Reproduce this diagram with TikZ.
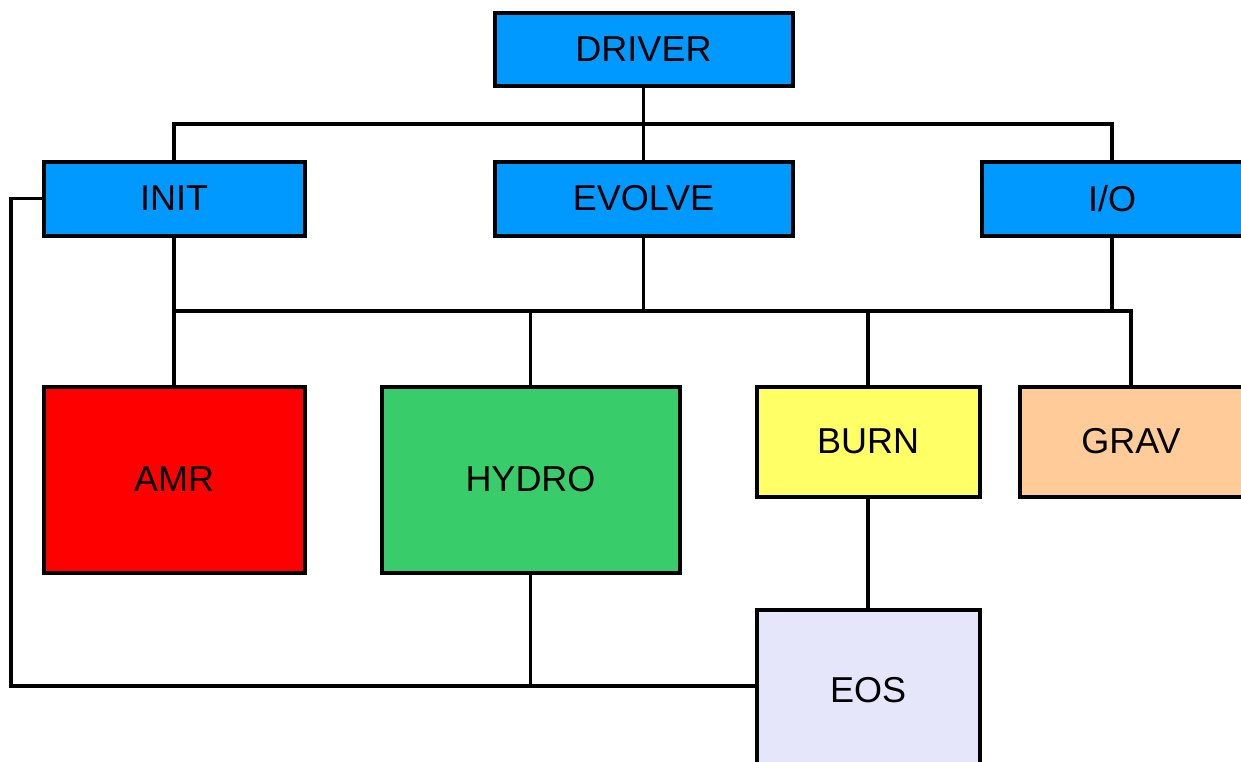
\documentclass[tikz,border=0pt]{standalone}
\usepackage{fontspec}
\setmainfont{Liberation Sans}
\definecolor{cblue}{RGB}{0,153,255}
\definecolor{cred}{RGB}{255,0,0}
\definecolor{cgreen}{RGB}{56,205,106}
\definecolor{cyellow}{RGB}{255,255,102}
\definecolor{cpeach}{RGB}{255,204,153}
\definecolor{clav}{RGB}{230,230,250}
\begin{document}
\begin{tikzpicture}[x=1pt,y=-1pt,
  box/.style={draw=black,line width=4pt,rectangle,inner sep=0pt,
    font=\fontsize{36}{43}\selectfont},
  wire/.style={draw=black,line width=3.5pt}]
\useasboundingbox (0,0) rectangle (1241,761);
\fill[white] (0,0) rectangle (1241,761);
% top level
\node[box,fill=cblue,minimum width=298pt,minimum height=73pt] (driver) at (643.5,49) {DRIVER};
\node[box,fill=cblue,minimum width=261pt,minimum height=74pt] (init) at (174,198.5) {INIT};
\node[box,fill=cblue,minimum width=298pt,minimum height=74pt] (evolve) at (643.5,198.5) {EVOLVE};
\node[box,fill=cblue,minimum width=261pt,minimum height=74pt] (io) at (1112,198.5) {I/O};
% modules
\node[box,fill=cred,minimum width=261pt,minimum height=186pt] (amr) at (174,479.5) {AMR};
\node[box,fill=cgreen,minimum width=298pt,minimum height=186pt] (hydro) at (530.5,479.5) {HYDRO};
\node[box,fill=cyellow,minimum width=223pt,minimum height=110pt] (burn) at (868,441.5) {BURN};
\node[box,fill=cpeach,minimum width=223pt,minimum height=110pt] (grav) at (1131,441.5) {GRAV};
\node[box,fill=clav,minimum width=223pt,minimum height=160pt] (eos) at (868,690) {EOS};
% buses
\coordinate (b1) at (643.5,124);
\coordinate (b2) at (643.5,311);
\coordinate (loop) at (11,686);
\draw[wire] (driver.south) -- (b1);
\draw[wire] (init.north) |- (b1);
\draw[wire] (io.north) |- (b1);
\draw[wire] (evolve.north) -- (b1);
\draw[wire] (evolve.south) -- (b2);
\draw[wire] (init.south) |- (b2);
\draw[wire] (grav.north) |- (b2);
\draw[wire] (io.south) -- (io.south |- b2);
\draw[wire] (amr.north) -- (amr.north |- b2);
\draw[wire] (hydro.north) -- (hydro.north |- b2);
\draw[wire] (burn.north) -- (burn.north |- b2);
\draw[wire] (burn.south) -- (eos.north);
\draw[wire] (hydro.south) |- (eos.west |- loop);
\draw[wire] (init.west) -| (loop) -- (hydro.south |- loop);
\end{tikzpicture}
\end{document}
